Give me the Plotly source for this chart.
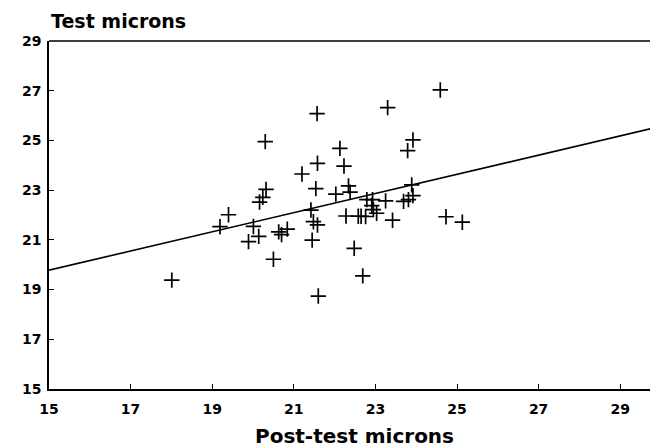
import plotly.graph_objects as go

# Data
post_test = [18.01, 19.19, 19.40, 19.89, 20.01, 20.14, 20.16, 20.24, 20.32, 20.30,
             20.50, 20.63, 20.70, 20.84, 21.20, 21.42, 21.48, 21.58, 21.45, 21.54,
             21.58, 21.57, 21.60, 22.03, 22.13, 22.23, 22.28, 22.34, 22.38, 22.48,
             22.58, 22.65, 22.76, 22.69, 22.79, 22.93, 22.91, 22.95, 23.03, 23.25,
             23.30, 23.42, 23.69, 23.81, 23.79, 23.89, 23.92, 23.92, 24.59, 24.73,
             25.13]
test = [19.38, 21.53, 22.01, 20.93, 21.54, 21.14, 22.52, 22.71, 23.03, 24.95,
        20.22, 21.32, 21.21, 21.43, 23.65, 22.20, 21.73, 21.60, 20.99, 23.06,
        24.08, 26.08, 18.74, 22.84, 24.68, 23.97, 21.96, 23.17, 22.92, 20.66,
        21.95, 21.95, 21.94, 19.55, 22.62, 22.62, 22.38, 22.22, 22.07, 22.57,
        26.32, 21.79, 22.55, 22.62, 24.59, 23.21, 25.02, 22.78, 27.03, 21.93,
        21.71]

fit_x = [15.0, 29.75]
fit_y = [19.78, 25.47]

tick_vals = [15, 17, 19, 21, 23, 25, 27, 29]
tick_text = ["15", "17", "19", "21", "23", "25", "27", "29"]

x_title = "Post-test microns"
y_title = "Test microns"

FONT = "DejaVu Sans"

fig = go.Figure()
fig.add_trace(go.Scatter(
    x=fit_x, y=fit_y, mode="lines",
    line=dict(color="black", width=1.6),
    hoverinfo="skip", showlegend=False,
))
fig.add_trace(go.Scatter(
    x=post_test, y=test, mode="markers",
    marker=dict(symbol="cross-thin", size=11, line=dict(color="black", width=1.7)),
    showlegend=False,
))

axis_common = dict(
    showgrid=False, zeroline=False,
    showline=True, linecolor="black", linewidth=1.5,
    ticks="inside", ticklen=5, tickwidth=1.2, tickcolor="black",
    tickfont=dict(family=FONT, size=14, color="black", weight="bold"),
    tickvals=tick_vals, ticktext=tick_text,
)

fig.update_xaxes(range=[15, 29.73], ticklabelstandoff=6, **axis_common)
fig.update_yaxes(range=[15, 29], ticklabelstandoff=3, **axis_common)

fig.update_layout(
    width=650, height=448,
    margin=dict(l=49, r=0, t=41, b=59),
    paper_bgcolor="white", plot_bgcolor="white",
    shapes=[dict(type="line", xref="paper", yref="paper", x0=0, x1=1, y0=1, y1=1,
                 line=dict(color="black", width=1.5))],
    annotations=[
        dict(text=y_title, xref="paper", yref="paper", x=0, y=1, yshift=7,
             xanchor="left", yanchor="bottom", showarrow=False,
             font=dict(family=FONT, size=19, color="black", weight="bold")),
        dict(text=x_title, xref="paper", yref="paper", x=0.5, y=0, yshift=-33,
             xshift=5, xanchor="center", yanchor="top", showarrow=False,
             font=dict(family=FONT, size=20, color="black", weight="bold")),
    ],
)

fig.write_html("out.html")
